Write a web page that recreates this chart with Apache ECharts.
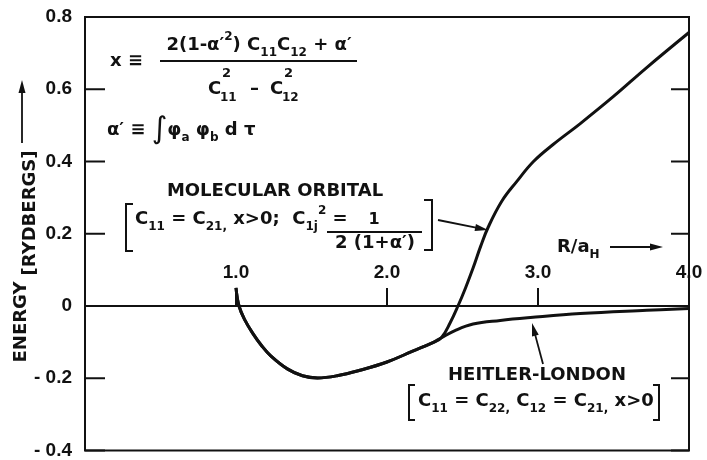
<!DOCTYPE html>
<html>
<head>
<meta charset="utf-8">
<script src="https://cdn.jsdelivr.net/npm/echarts@6/dist/echarts.min.js"></script>
<style>
  html, body { margin: 0; padding: 0; background: #fff; }
  #chart { width: 707px; height: 460px; }
</style>
</head>
<body>
<div id="chart"></div>
<script>
// Internuclear distance R/aH and energy in Rydbergs along each curve.
// Low-R branch shared by both treatments (repulsive wall, minimum, up to the fork).
const sharedR = [1.00, 1.02, 1.06, 1.11, 1.17, 1.23, 1.34, 1.44, 1.54, 1.67, 1.82, 2.00, 2.17, 2.30, 2.36];
const sharedE = [0.05, 0.0, -0.04, -0.075, -0.11, -0.138, -0.174, -0.193, -0.199, -0.193, -0.178, -0.155, -0.125, -0.102, -0.088];
// Molecular-orbital branch beyond the fork
const moR = [2.42, 2.47, 2.52, 2.57, 2.62, 2.67, 2.76, 2.86, 2.97, 3.10, 3.28, 3.50, 3.72, 4.00];
const moE = [-0.045, 0.0, 0.05, 0.105, 0.165, 0.218, 0.29, 0.345, 0.40, 0.447, 0.505, 0.58, 0.66, 0.757];
// Heitler-London branch beyond the fork
const hlR = [2.45, 2.57, 2.75, 2.95, 3.28, 3.72, 4.00];
const hlE = [-0.068, -0.05, -0.04, -0.032, -0.021, -0.012, -0.007];

const xTickValues = [0, 1, 2, 3, 4];
const xTickLabels = ['', '1.0', '2.0', '3.0', '4.0'];
const yTickValues = [-0.4, -0.2, 0, 0.2, 0.4, 0.6, 0.8];
const yTickLabels = ['- 0.4', '- 0.2', '0', '0.2', '0.4', '0.6', '0.8'];

const INK = '#111';
const FAMILY = '"DejaVu Sans", sans-serif';
const NUM_FAMILY = '"Liberation Sans", Arial, sans-serif';

// plot box
const W = 707, H = 460;
const GRID = { left: 85, right: 18, top: 17, bottom: 5 };
const Y_MIN = -0.4, Y_MAX = 0.8;
const PLOT_H = H - GRID.top - GRID.bottom;
// distance from the top of the plot down to the E = 0 line
const ZERO_DROP = PLOT_H * (Y_MAX - 0) / (Y_MAX - Y_MIN);
// energy tick stubs on the two frame edges
const TICK_L = 20, TICK_R = 18;

function zip(xs, ys) { return xs.map((x, i) => [x, ys[i]]); }
function tickText(values, labels, v) {
  const i = values.findIndex(t => Math.abs(t - v) < 1e-6);
  return i >= 0 ? labels[i] : '';
}

// rich-text token styles for sub/superscripts
const RICH = {
  s: { fontSize: 12, fontFamily: FAMILY, fontWeight: 'bold', fill: INK, verticalAlign: 'bottom', lineHeight: 13 },
  p: { fontSize: 12, fontFamily: FAMILY, fontWeight: 'bold', fill: INK, verticalAlign: 'top', lineHeight: 16 },
  i: { fontSize: 30, fontFamily: FAMILY, fontWeight: 'normal', fill: INK, lineHeight: 28 }
};

function txt(x, y, text, size, align, extra) {
  return Object.assign({
    type: 'text', x: x, y: y, silent: true, z: 10,
    style: {
      text: text, fill: INK, fontSize: size, fontFamily: FAMILY, fontWeight: 'bold',
      align: align || 'left', verticalAlign: 'middle',
      textAlign: align || 'left', textVerticalAlign: 'middle',
      lineHeight: 28, rich: RICH
    }
  }, extra || {});
}
function seg(x1, y1, x2, y2, w) {
  return { type: 'line', silent: true, z: 10, shape: { x1, y1, x2, y2 }, style: { stroke: INK, lineWidth: w || 2 } };
}
function bracket(pts) {
  return { type: 'polyline', silent: true, z: 10, shape: { points: pts }, style: { stroke: INK, lineWidth: 2, fill: null } };
}
function arrow(x1, y1, x2, y2) {
  const dx = x2 - x1, dy = y2 - y1, L = Math.hypot(dx, dy), ux = dx / L, uy = dy / L;
  const hl = 13, hw = 3.5;
  const bx = x2 - ux * hl, by = y2 - uy * hl;
  return [
    { type: 'line', silent: true, z: 10, shape: { x1, y1, x2: bx + ux * 2, y2: by + uy * 2 }, style: { stroke: INK, lineWidth: 1.8 } },
    { type: 'polygon', silent: true, z: 10, shape: { points: [[x2, y2], [bx - uy * hw, by + ux * hw], [bx + uy * hw, by - ux * hw]] }, style: { fill: INK } }
  ];
}

const graphics = [
  // definition of x
  txt(110, 61, 'x ≡', 18),
  txt(259, 45, '2(1-α′{p|2}) C{s|11}C{s|12} + α′', 18, 'center'),
  seg(160, 61, 357, 61, 2),
  txt(208, 89, 'C', 18), txt(222, 74, '2', 13), txt(220, 98, '11', 12),
  txt(250, 89, '–', 18),
  txt(270, 89, 'C', 18), txt(284, 74, '2', 13), txt(282, 98, '12', 12),
  // overlap integral
  txt(107, 130, 'α′ ≡ {i|∫}φ{s|a} φ{s|b} d τ', 18),
  // molecular orbital label
  txt(275, 191, 'MOLECULAR ORBITAL', 18, 'center'),
  bracket([[133, 204], [126, 204], [126, 251], [133, 251]]),
  txt(135, 219, 'C{s|11} = C{s|21,} x>0;  C{s|1j}{p|2} =', 18),
  txt(374, 220, '1', 16, 'center'),
  seg(327, 232, 422, 232, 2),
  txt(375, 243, '2 (1+α′)', 18, 'center'),
  bracket([[424, 200], [432, 200], [432, 250], [424, 250]]),
  ...arrow(438, 220, 488, 230),
  // abscissa name
  txt(557, 247, 'R/a{s|H}', 18),
  ...arrow(610, 247, 663, 247),
  // Heitler-London label
  txt(537, 375, 'HEITLER-LONDON', 18, 'center'),
  bracket([[415, 385], [409, 385], [409, 420], [415, 420]]),
  txt(418, 401, 'C{s|11} = C{s|22,} C{s|12} = C{s|21,} x>0', 18),
  bracket([[653, 385], [659, 385], [659, 420], [653, 420]]),
  ...arrow(543, 364, 532, 323),
  // ordinate name
  txt(21, 322, 'ENERGY', 18, 'center', { rotation: Math.PI / 2 }),
  txt(30, 213, '[RYDBERGS]', 18, 'center', { rotation: Math.PI / 2 }),
  ...arrow(22, 143, 22, 80)
];

const chart = echarts.init(document.getElementById('chart'), null, { renderer: 'canvas' });
chart.setOption({
  animation: false,
  backgroundColor: '#fff',
  grid: Object.assign({ show: true, borderColor: INK, borderWidth: 2, backgroundColor: 'transparent' }, GRID),
  xAxis: [
    {
      // R axis drawn along E = 0 with ticks standing up from it
      type: 'value', min: 0, max: 4, interval: 1,
      axisLine: { show: true, onZero: true, lineStyle: { color: INK, width: 2 } },
      axisTick: { show: true, inside: true, length: 18, lineStyle: { color: INK, width: 2 } },
      axisLabel: { show: false },
      splitLine: { show: false }
    },
    {
      // tick numbers sitting just above the E = 0 line
      type: 'value', min: 0, max: 4, interval: 1, position: 'top', offset: -ZERO_DROP,
      axisLine: { show: false, onZero: false },
      axisTick: { show: false },
      axisLabel: {
        margin: 27, color: INK, fontFamily: NUM_FAMILY, fontWeight: 'bold', fontSize: 19,
        showMinLabel: true, showMaxLabel: true,
        formatter: v => tickText(xTickValues, xTickLabels, v)
      },
      splitLine: { show: false }
    }
  ],
  yAxis: {
    type: 'value', min: Y_MIN, max: Y_MAX, interval: 0.2, position: 'left',
    axisLine: { show: false },
    axisTick: { show: false },
    axisLabel: {
      margin: 13, color: INK, fontFamily: NUM_FAMILY, fontWeight: 'bold', fontSize: 19,
      showMinLabel: true, showMaxLabel: true,
      formatter: v => tickText(yTickValues, yTickLabels, v)
    },
    splitLine: { show: false }
  },
  series: [
    {
      name: 'Molecular orbital', type: 'line', xAxisIndex: 0, yAxisIndex: 0,
      data: zip(sharedR.concat(moR), sharedE.concat(moE)),
      smooth: 0.4, symbol: 'none',
      lineStyle: { color: INK, width: 3 }, z: 5
    },
    {
      name: 'Heitler-London', type: 'line', xAxisIndex: 0, yAxisIndex: 0,
      data: zip(sharedR.concat(hlR), sharedE.concat(hlE)),
      smooth: 0.4, symbol: 'none',
      lineStyle: { color: INK, width: 3 }, z: 5
    }
  ]
});

// energy tick stubs on both frame edges, placed through the energy axis scale
const leftEdge = GRID.left, rightEdge = W - GRID.right;
const tickStubs = [];
yTickValues.forEach(v => {
  const py = chart.convertToPixel({ yAxisIndex: 0 }, v);
  tickStubs.push(seg(leftEdge, py, leftEdge + TICK_L, py, 2));
  tickStubs.push(seg(rightEdge - TICK_R, py, rightEdge, py, 2));
});

chart.setOption({ graphic: graphics.concat(tickStubs) });
</script>
</body>
</html>
